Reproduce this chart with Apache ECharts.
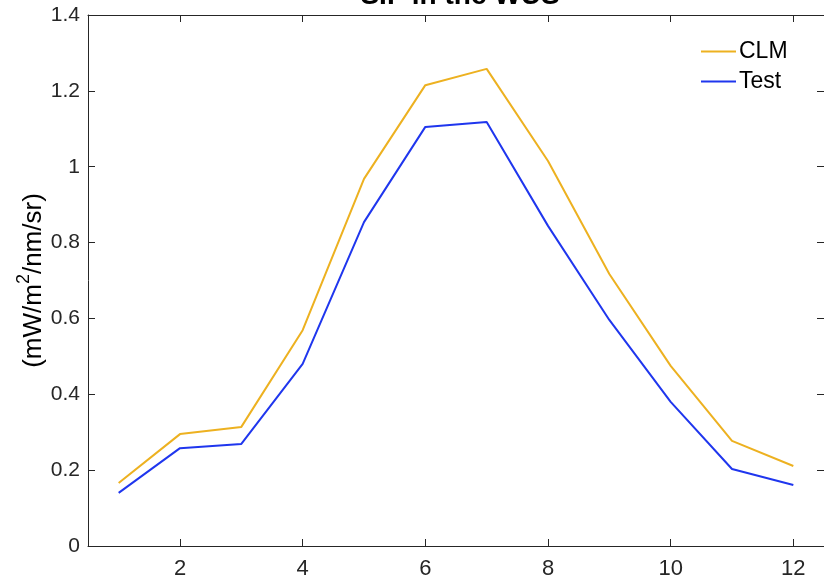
<!DOCTYPE html>
<html>
<head>
<meta charset="utf-8">
<script src="https://cdn.jsdelivr.net/npm/echarts@6/dist/echarts.min.js"></script>
<style>html,body{margin:0;padding:0;background:#fff}#c{width:824px;height:584px}</style>
</head>
<body>
<div id="c"></div>
<script>
const months = [1,2,3,4,5,6,7,8,9,10,11,12];
const clm  = [0.166,0.295,0.314,0.569,0.968,1.215,1.258,1.015,0.717,0.475,0.277,0.211];
const test = [0.140,0.258,0.269,0.480,0.854,1.105,1.118,0.844,0.596,0.380,0.203,0.161];
const xTicks = [2,4,6,8,10,12];
const yTicks = [0,0.2,0.4,0.6,0.8,1,1.2,1.4];

const FONT = 'Liberation Sans, Arial, Helvetica, sans-serif';
const AX = '#262626';
const chart = echarts.init(document.getElementById('c'));
const pair = (ys) => months.map((m,i)=>[m, ys[i]]);
const axisLine = {show:true,onZero:false,lineStyle:{color:AX,width:1}};
const yTick = {show:true,inside:true,length:7,lineStyle:{color:AX,width:1}};
chart.setOption({
  animation:false,
  backgroundColor:'#fff',
  title:{text:'SIF in the WUS',left:455,textAlign:'center',top:-23,
    textStyle:{fontFamily:FONT,fontWeight:'bold',fontSize:28,color:'#000'}},
  grid:{left:88,right:-2,top:15,bottom:38,containLabel:false},
  legend:{orient:'vertical',left:696,top:35,itemWidth:35,itemHeight:2,itemGap:7,icon:'rect',
    textStyle:{fontFamily:FONT,fontSize:23,color:'#000',padding:[0,0,0,-2]},
    data:['CLM','Test']},
  xAxis:[
    {type:'value',min:0.5,max:12.5,position:'bottom',axisLine:axisLine,splitLine:{show:false},
      axisLabel:{show:true,margin:12,fontFamily:FONT,fontSize:22,color:AX,customValues:xTicks},
      axisTick:{show:true,inside:true,length:7,customValues:xTicks,lineStyle:{color:AX}}},
    {type:'value',min:0.5,max:12.5,position:'top',axisLine:axisLine,splitLine:{show:false},
      axisLabel:{show:false},
      axisTick:{show:true,inside:true,length:7,customValues:xTicks,lineStyle:{color:AX}}}
  ],
  yAxis:[
    {type:'value',min:0,max:1.4,interval:0.2,position:'left',axisLine:axisLine,axisTick:yTick,
      splitLine:{show:false},
      name:'{a|(mW/m}{s|2}{a|/nm/sr)}',nameLocation:'middle',nameGap:41,nameRotate:90,
      nameMoveOverlap:false,
      nameTextStyle:{rich:{
        a:{fontFamily:FONT,fontSize:26,color:'#000',lineHeight:32,verticalAlign:'bottom'},
        s:{fontFamily:FONT,fontSize:18,color:'#000',lineHeight:32,verticalAlign:'top'}}},
      axisLabel:{margin:8,fontFamily:FONT,fontSize:21,color:AX,
        customValues:yTicks,formatter:v=>String(+(+v).toFixed(1))}},
    {type:'value',min:0,max:1.4,interval:0.2,position:'right',axisLine:axisLine,axisTick:yTick,
      splitLine:{show:false},axisLabel:{show:false}}
  ],
  series:[
    {name:'CLM',type:'line',data:pair(clm),symbol:'none',showSymbol:false,
      lineStyle:{color:'#EDB120',width:2},itemStyle:{color:'#EDB120'}},
    {name:'Test',type:'line',data:pair(test),symbol:'none',showSymbol:false,
      lineStyle:{color:'#1f36ee',width:2},itemStyle:{color:'#1f36ee'}}
  ]
});
</script>
</body>
</html>
